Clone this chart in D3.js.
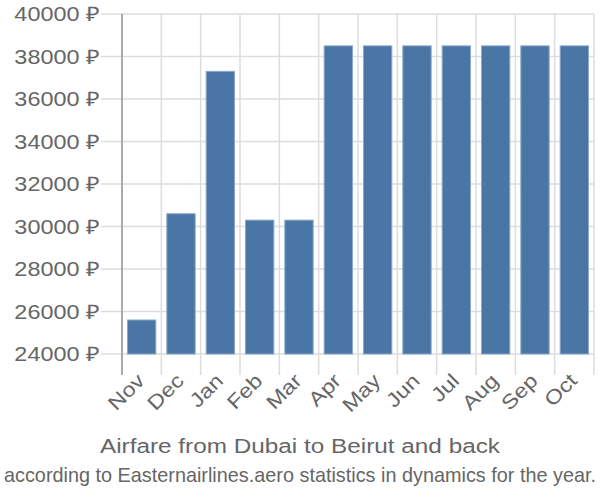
<!DOCTYPE html>
<meta charset="utf-8">
<style>
body { margin: 0; background: #fff; }
svg { font-family: "Liberation Sans", Arial, sans-serif; }
.grid line { stroke: #ddd; stroke-width: 1.5px; }
.tick-label { fill: #666; font-size: 20px; }
</style>
<svg width="600" height="500"></svg>
<script src="https://cdn.jsdelivr.net/npm/d3@7"></script>
<script>

var months = ["Nov", "Dec", "Jan", "Feb", "Mar", "Apr", "May", "Jun", "Jul", "Aug", "Sep", "Oct"];
var prices = [25600, 30600, 37300, 30300, 30300, 38500, 38500, 38500, 38500, 38500, 38500, 38500];
var yTicks = [24000, 26000, 28000, 30000, 32000, 34000, 36000, 38000, 40000];

var svg = d3.select("svg"),
    plotLeft = 122, plotRight = 594, plotTop = 14, plotBottom = 354;

// the reference font is a bit wider than Liberation Sans
var widen = 1.17;

var x = d3.scaleBand()
    .domain(months)
    .range([plotLeft, plotRight])
    .paddingInner(0.28)
    .paddingOuter(0.14);

var y = d3.scaleLinear()
    .domain([24000, 40000])
    .range([plotBottom, plotTop]);

// horizontal grid
var grid = svg.append("g").attr("class", "grid");
grid.selectAll("line.h")
    .data(yTicks)
    .enter().append("line")
    .attr("class", "h")
    .attr("x1", plotLeft - 21).attr("x2", plotRight)
    .attr("y1", function(d) { return y(d); })
    .attr("y2", function(d) { return y(d); });

// vertical grid at band edges
var edges = d3.range(months.length + 1).map(function(i) { return plotLeft + i * (plotRight - plotLeft) / months.length; });
grid.selectAll("line.v")
    .data(edges)
    .enter().append("line")
    .attr("class", "v")
    .attr("x1", function(d) { return d; }).attr("x2", function(d) { return d; })
    .attr("y1", plotTop).attr("y2", plotBottom + 21);

// y axis line
svg.append("line")
    .attr("x1", plotLeft).attr("x2", plotLeft)
    .attr("y1", plotTop).attr("y2", plotBottom + 21)
    .attr("stroke", "#aaa").attr("stroke-width", 2);

// bars
svg.append("g").selectAll("rect")
    .data(months)
    .enter().append("rect")
    .attr("x", function(d) { return x(d); })
    .attr("width", x.bandwidth())
    .attr("y", function(d, i) { return y(prices[i]); })
    .attr("height", function(d, i) { return plotBottom - y(prices[i]); })
    .attr("fill", "#4a76a6")
    .attr("stroke", "#8aa7c8")
    .attr("stroke-width", 1);

// y labels
svg.append("g").selectAll("text")
    .data(yTicks)
    .enter().append("text")
    .attr("class", "tick-label")
    .attr("x", plotLeft - 22)
    .attr("y", function(d) { return y(d); })
    .attr("dy", "0.35em")
    .attr("text-anchor", "end")
    .text(function(d) { return d + " \u20BD"; });

// x labels
svg.append("g").selectAll("text")
    .data(months)
    .enter().append("text")
    .attr("class", "tick-label")
    .attr("text-anchor", "end")
    .attr("transform", function(d) {
      return "translate(" + (x(d) + x.bandwidth() / 2 + 4) + "," + (plotBottom + 28) + ") rotate(-45)";
    })
    .text(function(d) { return d; });

svg.selectAll(".tick-label").each(function() {
  var len = this.getComputedTextLength();
  d3.select(this).attr("textLength", len * widen).attr("lengthAdjust", "spacingAndGlyphs");
});

// titles
svg.append("text")
    .attr("x", 300).attr("y", 453)
    .attr("text-anchor", "middle")
    .attr("fill", "#666")
    .attr("font-size", 20)
    .attr("textLength", 400)
    .attr("lengthAdjust", "spacingAndGlyphs")
    .text("Airfare from Dubai to Beirut and back");

svg.append("text")
    .attr("x", 300).attr("y", 482)
    .attr("text-anchor", "middle")
    .attr("fill", "#666")
    .attr("font-size", 21)
    .attr("textLength", 592)
    .attr("lengthAdjust", "spacingAndGlyphs")
    .text("according to Easternairlines.aero statistics in dynamics for the year.");

</script>
